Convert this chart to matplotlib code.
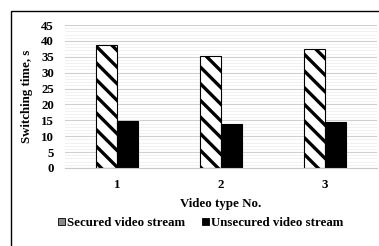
import numpy as np
import matplotlib.pyplot as plt
from matplotlib.patches import Rectangle, Patch
from matplotlib.ticker import MultipleLocator

plt.rcParams['font.family'] = ['Liberation Serif', 'DejaVu Serif']
plt.rcParams['font.weight'] = 'bold'
plt.rcParams['hatch.color'] = '#505050'
plt.rcParams['hatch.linewidth'] = 2.4

categories = ['1', '2', '3']
secured = [38.6, 35.4, 37.3]
unsecured = [14.8, 14.0, 14.6]

fig = plt.figure(figsize=(3.79, 2.46), dpi=100)
ax = fig.add_axes([65 / 379, 1 - 168 / 246, 312 / 379, 143 / 246])

x = np.arange(len(categories))
w = 0.2
ax.bar(x - w / 2, secured, w, color='white', edgecolor='black', linewidth=0.8,
       hatch='\\\\', label='Secured video stream')
ax.bar(x + w / 2, unsecured, w, color='black', edgecolor='black', linewidth=0.8,
       label='Unsecured video stream')

ax.set_xlim(-0.5, 2.5)
ax.set_ylim(0, 45)
ax.yaxis.set_major_locator(MultipleLocator(5))
ax.yaxis.set_minor_locator(MultipleLocator(1))
ax.grid(axis='y', which='major', color='#d0d0d0', linewidth=0.8)
ax.grid(axis='y', which='minor', color='#efefef', linewidth=0.6)
ax.set_axisbelow(True)
for s in ['top', 'right', 'left']:
    ax.spines[s].set_visible(False)
ax.spines['bottom'].set_color('#c8c8c8')
fs = 9.3
ax.tick_params(axis='both', length=0, labelsize=fs)
ax.tick_params(axis='y', pad=8)
ax.tick_params(axis='x', pad=8)
ax.tick_params(axis='y', which='minor', length=0)
ax.set_xticks(x)
ax.set_xticklabels(categories)
ax.set_xlabel('Video type No.', fontsize=fs, fontweight='bold', labelpad=5)
ax.set_ylabel('Switching time, s', fontsize=fs, fontweight='bold', labelpad=6)

# legend: small grey-ish hatched square like the original
handles = [Patch(facecolor='#8a8a8a', edgecolor='black', linewidth=0.6),
           Patch(facecolor='black', edgecolor='black', linewidth=0.6)]
labels = ['Secured video stream', 'Unsecured video stream']
fig.legend(handles, labels, loc='center', bbox_to_anchor=(201 / 379, 1 - 223 / 246),
           ncol=2, frameon=False, fontsize=fs, handlelength=0.55, handleheight=0.55,
           handletextpad=0.15, columnspacing=1.3)

fig.patches.append(Rectangle((10.5 / 379, -0.1), 1.2, 1 - 11 / 246 + 0.1,
                             transform=fig.transFigure, fill=False,
                             edgecolor='black', linewidth=1.0))

fig.savefig('out.png', dpi=100)
